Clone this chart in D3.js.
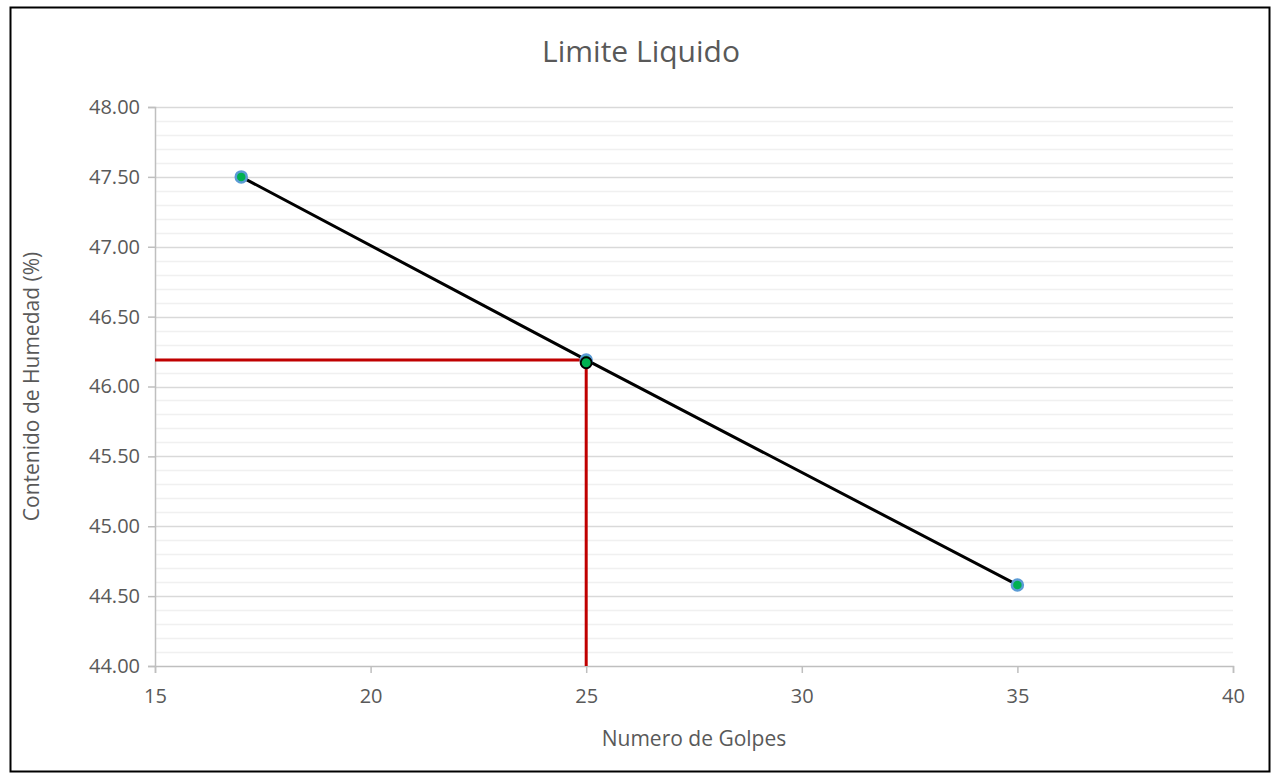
<!DOCTYPE html>
<html>
<head>
<meta charset="utf-8">
<script src="https://cdn.jsdelivr.net/npm/d3@7"></script>
<style>
  html, body { margin: 0; padding: 0; background: #fff; }
  svg { display: block; }
  text { font-family: "Open Sans", "Liberation Sans", sans-serif; fill: #595959; }
</style>
</head>
<body>
<svg id="chart" width="1275" height="778"></svg>
<script>
// Ensayo de límite líquido: número de golpes vs contenido de humedad
const golpes = [17, 25, 35];
const humedad = [47.50, 46.19, 44.58];
const llGolpes = 25;
const llHumedad = 46.17;
const lineaLL = 46.19;
const xTicks = [15, 20, 25, 30, 35, 40];
const yTicks = [44.00, 44.50, 45.00, 45.50, 46.00, 46.50, 47.00, 47.50, 48.00];

const svg = d3.select("#chart");
const plot = { left: 155, right: 1233, top: 107, bottom: 666 };
const fontFam = '"Open Sans", "Liberation Sans", sans-serif';

const x = d3.scaleLinear().domain([15, 40]).range([plot.left, plot.right]);
const y = d3.scaleLinear().domain([44, 48]).range([plot.bottom, plot.top]);

// marco exterior
svg.append("rect").attr("x", 10.5).attr("y", 7.5).attr("width", 1259).attr("height", 764)
  .attr("fill", "#fff").attr("stroke", "#000").attr("stroke-width", 2);

// título
svg.append("text").attr("x", 641).attr("y", 54).attr("text-anchor", "middle")
  .attr("dominant-baseline", "middle").style("font-size", "30px").text("Limite Liquido");

// líneas de cuadrícula menores (cada 0.1)
const minor = d3.range(44.1, 48, 0.1).filter(v => Math.abs(v * 2 - Math.round(v * 2)) > 1e-6);
svg.append("g").selectAll("line").data(minor).join("line")
  .attr("x1", plot.left).attr("x2", plot.right)
  .attr("y1", d => Math.round(y(d)) + 0.5).attr("y2", d => Math.round(y(d)) + 0.5)
  .attr("stroke", "#f0f0f0").attr("stroke-width", 1.5);

// líneas de cuadrícula mayores
svg.append("g").selectAll("line").data(yTicks.slice(1)).join("line")
  .attr("x1", plot.left).attr("x2", plot.right)
  .attr("y1", d => Math.round(y(d)) + 0.5).attr("y2", d => Math.round(y(d)) + 0.5)
  .attr("stroke", "#d9d9d9").attr("stroke-width", 1.5);

// eje Y
const yAxis = d3.axisLeft(y).tickValues(yTicks).tickSize(7).tickPadding(8)
  .tickFormat(d3.format(".2f"));
const gy = svg.append("g").attr("transform", `translate(${plot.left},0)`).call(yAxis);
gy.select(".domain").attr("stroke", "#bfbfbf").attr("stroke-width", 1.5);
gy.selectAll(".tick line").attr("stroke", "#bfbfbf").attr("stroke-width", 1.5);
gy.selectAll(".tick text").style("font-size", "20px").attr("fill", "#595959")
  .style("font-family", fontFam);

// eje X
const xAxis = d3.axisBottom(x).tickValues(xTicks).tickSize(7).tickPadding(16);
const gx = svg.append("g").attr("transform", `translate(0,${plot.bottom})`).call(xAxis);
gx.select(".domain").attr("stroke", "#bfbfbf").attr("stroke-width", 1.5);
gx.selectAll(".tick line").attr("stroke", "#bfbfbf").attr("stroke-width", 1.5);
gx.selectAll(".tick text").style("font-size", "20px").attr("fill", "#595959")
  .style("font-family", fontFam);

// títulos de ejes
svg.append("text").attr("x", (plot.left + plot.right) / 2).attr("y", 740).attr("text-anchor", "middle")
  .attr("dominant-baseline", "middle").style("font-size", "21px").text("Numero de Golpes");
svg.append("text").attr("transform", `translate(33,${(plot.top + plot.bottom) / 2}) rotate(-90)`)
  .attr("text-anchor", "middle").attr("dominant-baseline", "middle")
  .style("font-size", "21px").text("Contenido de Humedad (%)");

// líneas de referencia del límite líquido
svg.append("line").attr("x1", x(15)).attr("x2", x(llGolpes))
  .attr("y1", y(lineaLL)).attr("y2", y(lineaLL))
  .attr("stroke", "#c00000").attr("stroke-width", 3);
svg.append("line").attr("x1", x(llGolpes)).attr("x2", x(llGolpes))
  .attr("y1", y(lineaLL)).attr("y2", y(44))
  .attr("stroke", "#c00000").attr("stroke-width", 3);

// serie de ensayos
const pts = golpes.map((g, i) => [g, humedad[i]]);
svg.append("path").datum(pts)
  .attr("d", d3.line().x(d => x(d[0])).y(d => y(d[1])))
  .attr("fill", "none").attr("stroke", "#000").attr("stroke-width", 3);

svg.append("g").selectAll("circle").data(pts).join("circle")
  .attr("cx", d => x(d[0])).attr("cy", d => y(d[1])).attr("r", 5.5)
  .attr("fill", "#00b050").attr("stroke", "#5b9bd5").attr("stroke-width", 2.5);

// punto del límite líquido
svg.append("circle").attr("cx", x(llGolpes)).attr("cy", y(llHumedad)).attr("r", 5.5)
  .attr("fill", "#00b050").attr("stroke", "#000").attr("stroke-width", 2);
</script>
</body>
</html>
